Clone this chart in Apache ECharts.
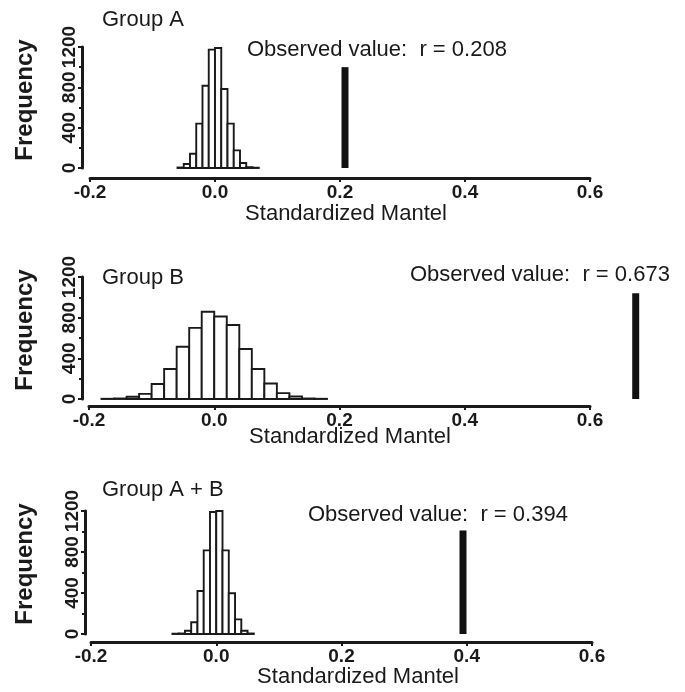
<!DOCTYPE html>
<html><head><meta charset="utf-8">
<script src="https://cdn.jsdelivr.net/npm/echarts@6/dist/echarts.min.js"></script>
<style>html,body{margin:0;padding:0;background:#fff}#c{width:685px;height:692px}</style>
</head><body><div id="c"></div>
<script>
// ---------- data ----------
const panelTitles = ['Group A', 'Group B', 'Group A + B'];
const xAxisTitle = 'Standardized Mantel';
const yAxisTitle = 'Frequency';
const xTickValues = [-0.2, 0.0, 0.2, 0.4, 0.6];
const yTickValues = [0, 400, 800, 1200];

// Group A permutation histogram (bin lower edges, counts)
const binWidthA = 0.01;
const binStartA = [-0.06, -0.05, -0.04, -0.03, -0.02, -0.01, 0.00, 0.01, 0.02, 0.03, 0.04, 0.05, 0.06];
const countsA   = [5, 40, 142, 440, 816, 1174, 1190, 784, 440, 175, 50, 8, 3];

// Group B permutation histogram
const binWidthB = 0.02;
const binStartB = [-0.18, -0.16, -0.14, -0.12, -0.10, -0.08, -0.06, -0.04, -0.02, 0.00, 0.02, 0.04, 0.06, 0.08, 0.10, 0.12, 0.14, 0.16];
const countsB   = [2, 5, 22, 50, 148, 295, 514, 700, 858, 812, 728, 492, 295, 153, 58, 24, 5, 2];

// Group A + B permutation histogram
const binWidthC = 0.01;
const binStartC = [-0.07, -0.06, -0.05, -0.04, -0.03, -0.02, -0.01, 0.00, 0.01, 0.02, 0.03, 0.04, 0.05];
const countsC   = [3, 5, 32, 114, 420, 816, 1190, 1200, 816, 397, 143, 32, 5];

// Observed statistics and the drawn height of their marker bars
const observedR = [0.208, 0.673, 0.394];
const observedBarHeight = [1000, 1040, 1010];
const observedLabels = ['Observed value:  r = 0.208', 'Observed value:  r = 0.673', 'Observed value:  r = 0.394'];

// ---------- chart ----------
const INK = '#1a1a1a';
const FONT = '"Liberation Sans", Arial, Helvetica, sans-serif';

const grids = [
  {left: 90, right: 95, top: 47, bottom: 524},
  {left: 89, right: 95, top: 277, bottom: 293},
  {left: 91, right: 93, top: 511, bottom: 58}
];
const xOffsets = [10, 7, 8];
const yOffsets = [8, 7, 6];

function xAxisCfg(i) {
  return {
    gridIndex: i, type: 'value', min: xTickValues[0], max: xTickValues[xTickValues.length - 1],
    interval: 0.2, offset: xOffsets[i],
    axisLine: {show: true, onZero: false, lineStyle: {color: INK, width: 3}},
    axisTick: {show: true, length: 4, lineStyle: {color: INK, width: 2}},
    axisLabel: {show: true, color: INK, fontFamily: FONT, fontWeight: 'bold', fontSize: 19, margin: 5,
      showMinLabel: true, showMaxLabel: true,
      formatter: v => (Math.abs(v) < 1e-9 ? 0 : v).toFixed(1)},
    splitLine: {show: false}
  };
}
function yAxisCfg(i) {
  return {
    gridIndex: i, type: 'value', min: yTickValues[0], max: yTickValues[yTickValues.length - 1],
    interval: 400, offset: yOffsets[i],
    axisLine: {show: true, onZero: false, lineStyle: {color: INK, width: 3}},
    axisTick: {show: true, length: 4, lineStyle: {color: INK, width: 2}},
    minorTick: {show: true, splitNumber: 2, length: 3, lineStyle: {color: INK, width: 2}},
    axisLabel: {show: true, rotate: 90, color: INK, fontFamily: FONT, fontWeight: 'bold', fontSize: 19, margin: 3,
      showMinLabel: true, showMaxLabel: true, formatter: v => String(Math.round(v))},
    splitLine: {show: false}
  };
}

function histSeries(i, starts, counts, width) {
  return {
    type: 'custom', xAxisIndex: i, yAxisIndex: i, silent: true, clip: false,
    data: starts.map((s, k) => [s, s + width, counts[k]]),
    encode: {x: [0, 1], y: 2},
    renderItem(params, api) {
      const a = api.coord([api.value(0), 0]);
      const b = api.coord([api.value(1), api.value(2)]);
      return {type: 'rect',
        shape: {x: a[0], y: b[1], width: b[0] - a[0], height: a[1] - b[1]},
        style: {fill: '#ffffff', stroke: INK, lineWidth: 1.9}};
    }
  };
}
function observedSeries(i) {
  return {
    type: 'custom', xAxisIndex: i, yAxisIndex: i, silent: true, clip: false,
    data: [[observedR[i], observedBarHeight[i]]],
    encode: {x: 0, y: 1},
    renderItem(params, api) {
      const a = api.coord([api.value(0), 0]);
      const b = api.coord([api.value(0), api.value(1)]);
      return {type: 'rect',
        shape: {x: a[0] - 3.5, y: b[1], width: 7, height: a[1] - b[1]},
        style: {fill: '#111111'}};
    }
  };
}

const titlePos = [[102, 20], [102, 278], [102, 490]];
const obsPos = [[247, 50], [410, 275], [308, 515]];
const freqPos = [[25, 100], [25, 330], [25, 564]];
const mantelPos = [[346, 214], [350, 437], [358, 677]];

const graphics = [];
for (let i = 0; i < 3; i++) {
  graphics.push({type: 'text', x: titlePos[i][0], y: titlePos[i][1], silent: true,
    style: {text: panelTitles[i], fill: INK, font: '22px ' + FONT, textAlign: 'left', textVerticalAlign: 'middle'}});
  graphics.push({type: 'text', x: obsPos[i][0], y: obsPos[i][1], silent: true,
    style: {text: observedLabels[i], fill: INK, font: '22px ' + FONT, textAlign: 'left', textVerticalAlign: 'middle'}});
  graphics.push({type: 'text', x: freqPos[i][0], y: freqPos[i][1], rotation: Math.PI / 2, silent: true,
    style: {text: yAxisTitle, fill: INK, font: 'bold 24px ' + FONT, textAlign: 'center', textVerticalAlign: 'middle'}});
  graphics.push({type: 'text', x: mantelPos[i][0], y: mantelPos[i][1], silent: true,
    style: {text: xAxisTitle, fill: INK, font: '22px ' + FONT, textAlign: 'center', textVerticalAlign: 'middle'}});
}

const chart = echarts.init(document.getElementById('c'), null, {renderer: 'canvas'});
chart.setOption({
  animation: false,
  backgroundColor: '#ffffff',
  grid: grids,
  xAxis: [0, 1, 2].map(xAxisCfg),
  yAxis: [0, 1, 2].map(yAxisCfg),
  series: [
    histSeries(0, binStartA, countsA, binWidthA),
    histSeries(1, binStartB, countsB, binWidthB),
    histSeries(2, binStartC, countsC, binWidthC),
    observedSeries(0), observedSeries(1), observedSeries(2)
  ],
  graphic: graphics
});
</script>
</body></html>
